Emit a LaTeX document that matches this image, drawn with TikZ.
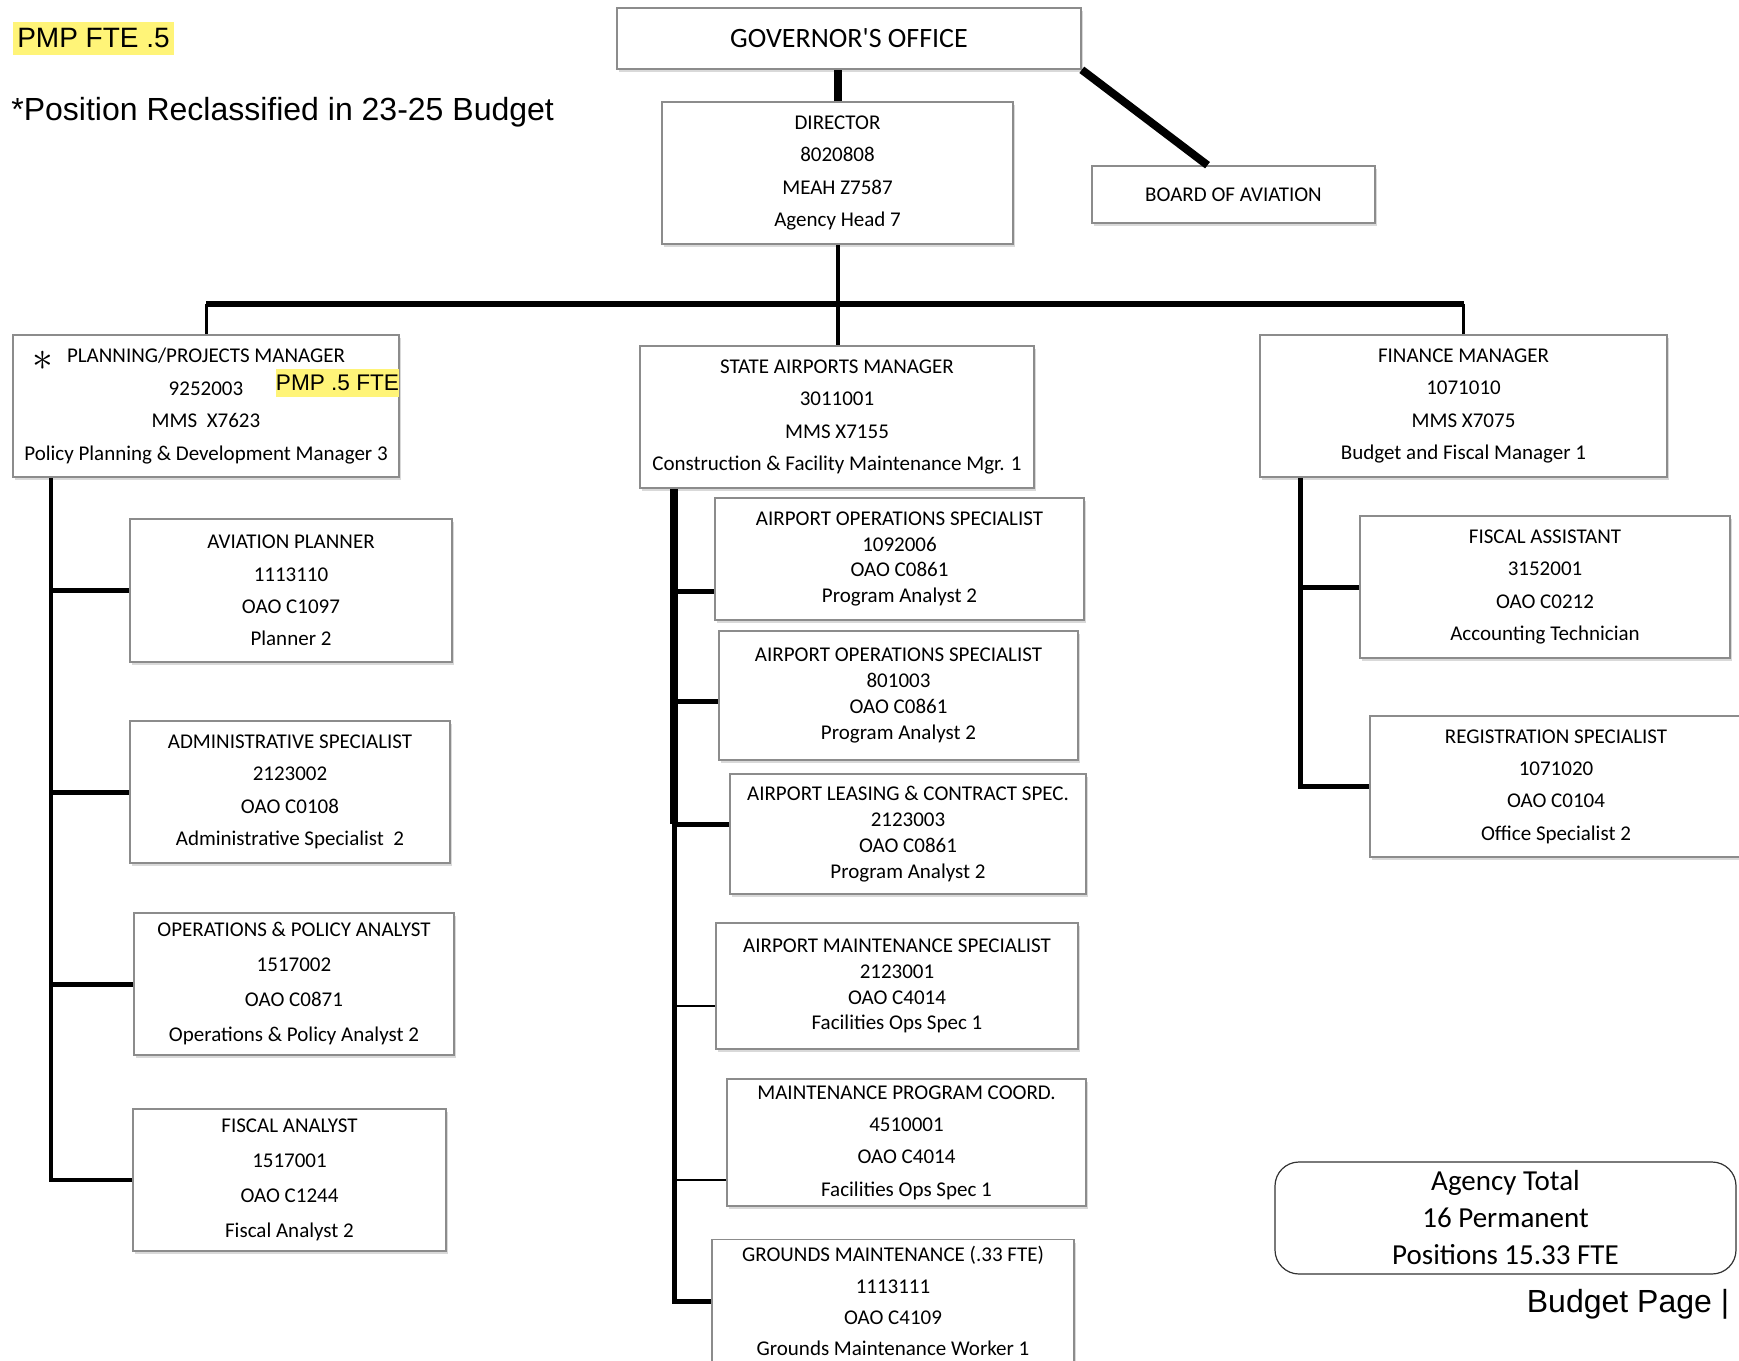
\documentclass[tikz,border=0pt]{standalone}
\usepackage{fontspec}
\setmainfont{Carlito}
\newfontfamily\arialfont{Liberation Sans}
\usetikzlibrary{positioning, shadows, calc}
\definecolor{hilite}{RGB}{255,244,120}
\tikzstyle{post} = [rectangle, draw=black!45, line width=0.8pt, fill=white, drop shadow={shadow xshift=1.2pt, shadow yshift=-1.5pt, opacity=0.3}, align=center, inner sep=0pt, font=\fontsize{10.5}{16.2}\selectfont]
\tikzstyle{tight} = [font=\fontsize{10.5}{12.9}\selectfont]
\tikzstyle{link} = [line width=2.5pt]
\tikzstyle{thinlink} = [line width=0.6pt]
\tikzstyle{note} = [font=\arialfont\fontsize{16}{19}\selectfont, inner sep=0pt]

\begin{document}
\begin{tikzpicture}[x=0.5pt, y=-0.5pt]
\useasboundingbox (0,0) rectangle (1739,1360);
\clip (0,0) rectangle (1739,1360);

% top of the chart
\node (gov) [post, minimum width=232pt, minimum height=30.5pt, font=\fontsize{14}{17}\selectfont] at (849,38.5) {GOVERNOR\textquotesingle S OFFICE};
\node (dir) [post, minimum width=175.5pt, minimum height=71pt] at (837.5,173) {DIRECTOR\\8020808\\MEAH Z7587\\Agency Head 7};
\node (board) [post, minimum width=141.5pt, minimum height=28.5pt] at (1233.5,194.5) {BOARD OF AVIATION};

% managers
\node (plan) [post, minimum width=193pt, minimum height=71pt] at (206,406) {PLANNING/PROJECTS MANAGER\\9252003\\MMS\ \ X7623\\Policy Planning \& Development Manager 3};
\node (sam) [post, minimum width=197pt, minimum height=71pt] at (837,417) {STATE AIRPORTS MANAGER\\3011001\\MMS X7155\\Construction \& Facility Maintenance Mgr. 1};
\node (fin) [post, minimum width=203.5pt, minimum height=71pt] at (1463.5,406) {FINANCE MANAGER\\1071010\\MMS X7075\\Budget and Fiscal Manager 1};
\node (star) [inner sep=0pt, font=\fontsize{20}{20}\selectfont] at (43,361) {$\ast$};
\node (pmp) [note, fill=hilite, font=\arialfont\fontsize{11.3}{13}\selectfont, minimum width=61.5pt, minimum height=14pt] at (337.5,383) {PMP .5 FTE};

% planning staff
\node (avp) [post, minimum width=161pt, minimum height=71.5pt] at (291,590.5) {AVIATION PLANNER\\1113110\\OAO C1097\\Planner 2};
\node (adm) [post, minimum width=160pt, minimum height=71pt] at (290,792) {ADMINISTRATIVE SPECIALIST\\2123002\\OAO C0108\\Administrative Specialist\ \ 2};
\node (opa) [post, minimum width=160pt, minimum height=71pt, font=\fontsize{10.5}{17.5}\selectfont] at (294,984) {OPERATIONS \& POLICY ANALYST\\1517002\\OAO C0871\\Operations \& Policy Analyst 2};
\node (fan) [post, minimum width=156.5pt, minimum height=71pt, font=\fontsize{10.5}{17.5}\selectfont] at (289.5,1180) {FISCAL ANALYST\\1517001\\OAO C1244\\Fiscal Analyst 2};

% airports staff
\node (aos1) [post, tight, minimum width=184.5pt, minimum height=61pt] at (899.5,559) {AIRPORT OPERATIONS SPECIALIST\\1092006\\OAO C0861\\Program Analyst 2};
\node (aos2) [post, tight, minimum width=179.5pt, minimum height=64.5pt] at (898.5,695.5) {AIRPORT OPERATIONS SPECIALIST\\801003\\OAO C0861\\Program Analyst 2};
\node (lease) [post, tight, minimum width=178pt, minimum height=60pt] at (908,834) {AIRPORT LEASING \& CONTRACT SPEC.\\2123003\\OAO C0861\\Program Analyst 2};
\node (ams) [post, tight, minimum width=181pt, minimum height=63pt] at (897,986) {AIRPORT MAINTENANCE SPECIALIST\\2123001\\OAO C4014\\Facilities Ops Spec 1};
\node (mpc) [post, minimum width=179.5pt, minimum height=63.5pt] at (906.5,1142.5) {MAINTENANCE PROGRAM COORD.\\4510001\\OAO C4014\\Facilities Ops Spec 1};
\node (gnd) [post, minimum width=181pt, minimum height=61.5pt, font=\fontsize{10.5}{15.6}\selectfont] at (893,1301) {GROUNDS MAINTENANCE (.33 FTE)\\1113111\\OAO C4109\\Grounds Maintenance Worker 1};

% finance staff
\node (fa) [post, minimum width=185pt, minimum height=71pt] at (1545,587) {FISCAL ASSISTANT\\3152001\\OAO C0212\\Accounting Technician};
\node (reg) [post, minimum width=186pt, minimum height=70.5pt] at (1556,786.5) {REGISTRATION SPECIALIST\\1071020\\OAO C0104\\Office Specialist 2};

% notes
\node (pmptop) [note, fill=hilite, font=\arialfont\fontsize{14}{16}\selectfont, minimum width=80.5pt, minimum height=16.5pt] at (93.5,38.5) {PMP FTE .5};
\node (reclass) [note, anchor=west] at (11,112) {*Position Reclassified in 23-25 Budget};
\node (total) [rectangle, rounded corners=12pt, draw=black!80, line width=0.6pt, minimum width=230.5pt, minimum height=56pt, align=center, font=\fontsize{14.5}{18.5}\selectfont] at (1505.5,1218) {Agency Total\\16 Permanent\\Positions 15.33 FTE};
\node (page) [note] at (1628,1304) {Budget Page |};

% connectors
\draw [link, line width=4pt] (dir.north) -- (dir.north |- gov.south);
\draw [link, line width=4pt] (gov.south east) -- ([xshift=-13pt]board.north);
\coordinate (bus) at (837,304);
\draw [link, line width=2pt] (dir.south) -- (dir.south |- sam.north);
\draw [link, line width=3pt] (plan.north |- bus) -- (fin.north |- bus);
\draw [link, line width=1.5pt] (plan.north) -- (plan.north |- bus);
\draw [link, line width=1.5pt] (fin.north) -- (fin.north |- bus);

% left branch
\coordinate (ltop) at ([xshift=19.5pt]plan.south west);
\draw [link, line width=2.2pt] (ltop) |- (fan.west);
\foreach \n in {avp, adm, opa}
  \draw [link] (ltop |- \n.west) -- (\n.west);

% middle branch
\coordinate (mtop) at ([xshift=17.5pt]sam.south west);
\foreach \n/\dy in {aos1/-16pt, aos2/-3pt, lease/5pt, ams/-10pt, mpc/-18.75pt}
  \coordinate (\n-in) at ([yshift=\dy]\n.west);
\draw [link, line width=4pt] (mtop) -- (mtop |- lease-in);
\draw [link, line width=2.5pt] (mtop |- lease-in) |- (gnd.west);
\foreach \n in {aos1, aos2, lease}
  \draw [link] (mtop |- \n-in) -- (\n-in);
\foreach \n in {ams, mpc}
  \draw [thinlink] (mtop |- \n-in) -- (\n-in);

% right branch
\coordinate (rtop) at ([xshift=20.5pt]fin.south west);
\draw [link] (rtop) |- (reg.west);
\draw [link] (rtop |- fa.west) -- (fa.west);
\end{tikzpicture}
\end{document}
